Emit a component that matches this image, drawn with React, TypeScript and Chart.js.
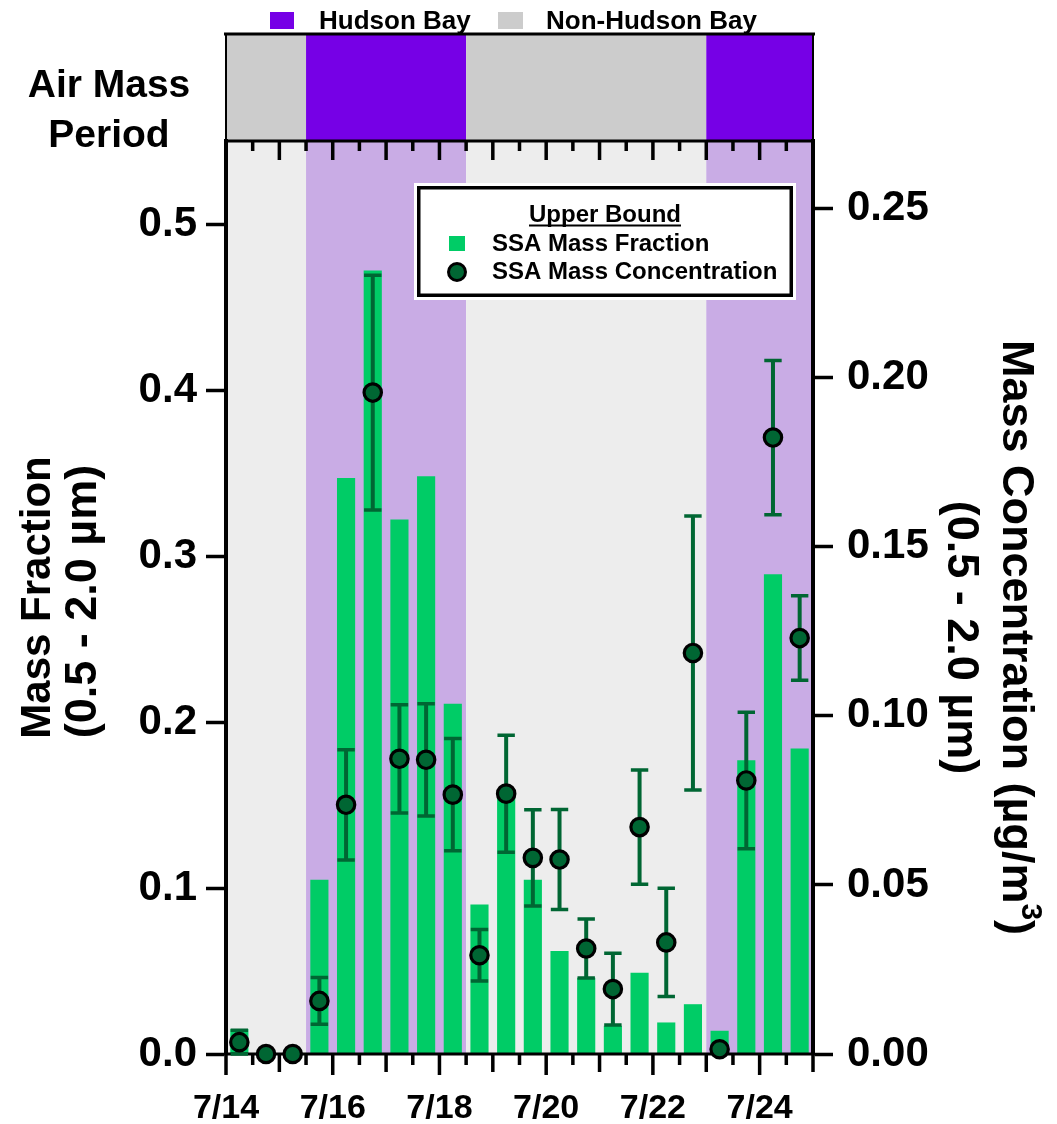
import React, { useEffect, useRef } from 'react';
import { Chart, registerables } from 'chart.js';

Chart.register(...registerables);

// ---------- data ----------
// sample positions: days after 7/14 00:00 (12-hour periods, centred)
const slotDays = [0.25, 0.75, 1.25, 1.75, 2.25, 2.75, 3.25, 3.75, 4.25, 4.75, 5.25, 5.75, 6.25, 6.75, 7.25, 7.75, 8.25, 8.75, 9.25, 9.75, 10.25, 10.75];
const massFraction = [0.015, 0, 0, 0.105, 0.347, 0.472, 0.322, 0.348, 0.211, 0.090, 0.157, 0.105, 0.062, 0.046, 0.017, 0.049, 0.019, 0.030, 0.014, 0.177, 0.289, 0.184];
const massConc = [0.0035, 0, 0, 0.0157, 0.0737, 0.1956, 0.0873, 0.087, 0.0767, 0.0292, 0.077, 0.058, 0.0575, 0.0312, 0.0192, 0.0671, 0.033, 0.1186, 0.0014, 0.0809, 0.1823, 0.123];
const concErr = [0.0035, 0, 0, 0.0069, 0.0163, 0.0347, 0.016, 0.0166, 0.0166, 0.0076, 0.0173, 0.0142, 0.0148, 0.0087, 0.0106, 0.0169, 0.016, 0.0405, 0, 0.0202, 0.0228, 0.0125];

const xTickDays = [0, 2, 4, 6, 8, 10];
const xTickLabels = ['7/14', '7/16', '7/18', '7/20', '7/22', '7/24'];

const periodStart = [0, 1.5, 4.5, 9];
const periodEnd = [1.5, 4.5, 9, 11];
const periodIsHudson = [false, true, false, true];
const periodLegend = ['Hudson Bay', 'Non-Hudson Bay'];

// ---------- styles ----------
const FONT = '"Liberation Sans", Arial, Helvetica, sans-serif';
const BAR = '#00CC66';
const PT = '#006633';
const HB = '#7600E6';
const NHB = '#CCCCCC';
const HB_LIGHT = '#C9ACE5';
const NHB_LIGHT = '#EDEDED';
const STRIP_TOP = 34;

const decor = {
  id: 'decor',
  beforeDraw(chart: any) {
    const { ctx, chartArea: ca, scales } = chart;
    const x = scales.x;
    ctx.save();
    for (let i = 0; i < periodStart.length; i++) {
      const x0 = x.getPixelForValue(periodStart[i]);
      const x1 = x.getPixelForValue(periodEnd[i]);
      ctx.fillStyle = periodIsHudson[i] ? HB_LIGHT : NHB_LIGHT;
      ctx.fillRect(x0, ca.top, x1 - x0, ca.bottom - ca.top);
      ctx.fillStyle = periodIsHudson[i] ? HB : NHB;
      ctx.fillRect(x0, STRIP_TOP, x1 - x0, ca.top - STRIP_TOP);
    }
    ctx.restore();
  },
  beforeDatasetDraw(chart: any, args: any) {
    if (args.index !== 1) return;
    const { ctx, chartArea: ca, scales } = chart;
    const x = scales.x;
    const y2 = scales.y2;
    ctx.save();
    // bottom axis line
    ctx.strokeStyle = '#000';
    ctx.lineWidth = 3;
    ctx.beginPath();
    ctx.moveTo(ca.left - 2, ca.bottom);
    ctx.lineTo(ca.right + 2, ca.bottom);
    ctx.stroke();
    // error bars
    ctx.strokeStyle = PT;
    for (let i = 0; i < slotDays.length; i++) {
      if (!(concErr[i] > 0)) continue;
      const px = x.getPixelForValue(slotDays[i]);
      const yt = y2.getPixelForValue(massConc[i] + concErr[i]);
      const yb = y2.getPixelForValue(Math.max(0, massConc[i] - concErr[i]));
      ctx.lineWidth = 4;
      ctx.beginPath();
      ctx.moveTo(px, yt);
      ctx.lineTo(px, yb);
      ctx.stroke();
      ctx.lineWidth = 3.5;
      ctx.beginPath();
      ctx.moveTo(px - 8.7, yt);
      ctx.lineTo(px + 8.7, yt);
      ctx.moveTo(px - 8.7, yb);
      ctx.lineTo(px + 8.7, yb);
      ctx.stroke();
    }
    ctx.restore();
  },
  afterDraw(chart: any) {
    const { ctx, chartArea: ca, scales } = chart;
    const x = scales.x;
    ctx.save();
    ctx.strokeStyle = '#000';
    ctx.lineCap = 'butt';
    // strip border
    ctx.lineWidth = 3;
    ctx.beginPath();
    ctx.moveTo(ca.left - 2, STRIP_TOP);
    ctx.lineTo(ca.right + 2, STRIP_TOP);
    ctx.stroke();
    ctx.lineWidth = 2;
    ctx.beginPath();
    ctx.moveTo(ca.left, STRIP_TOP);
    ctx.lineTo(ca.left, ca.top);
    ctx.moveTo(ca.right, STRIP_TOP);
    ctx.lineTo(ca.right, ca.top);
    ctx.stroke();
    // plot top line
    ctx.lineWidth = 3;
    ctx.beginPath();
    ctx.moveTo(ca.left - 2, ca.top);
    ctx.lineTo(ca.right + 2, ca.top);
    ctx.stroke();
    // x tick marks
    ctx.lineWidth = 3.5;
    const nT = Math.round((x.max - x.min) / 0.5);
    ctx.beginPath();
    for (let k = 0; k <= nT; k++) {
      const px = x.getPixelForValue(x.min + k * 0.5);
      const lenB = k % 4 === 0 ? 21 : k % 2 === 0 ? 18 : 11;
      ctx.moveTo(px, ca.bottom);
      ctx.lineTo(px, ca.bottom + lenB);
      if (k > 0 && k < nT) {
        const lenT = k % 2 === 0 ? 19 : 10;
        ctx.moveTo(px, ca.top);
        ctx.lineTo(px, ca.top + lenT);
      }
    }
    ctx.stroke();

    ctx.fillStyle = '#000';
    // Air Mass Period label
    ctx.font = `bold 39px ${FONT}`;
    ctx.textAlign = 'center';
    ctx.textBaseline = 'alphabetic';
    ctx.fillText('Air Mass', 109, 97);
    ctx.fillText('Period', 109, 147);

    // strip legend
    ctx.font = `bold 26px ${FONT}`;
    ctx.textAlign = 'left';
    ctx.fillStyle = HB;
    ctx.fillRect(270, 12, 24, 17);
    ctx.fillStyle = NHB;
    ctx.fillRect(498, 12, 25, 17);
    ctx.fillStyle = '#000';
    ctx.fillText(periodLegend[0], 319, 29);
    ctx.fillText(periodLegend[1], 546, 29);

    // axis titles
    const cy = (ca.top + ca.bottom) / 2;
    ctx.textAlign = 'center';
    ctx.font = `bold 42px ${FONT}`;
    ctx.save();
    ctx.translate(50, cy);
    ctx.rotate(-Math.PI / 2);
    ctx.fillText('Mass Fraction', 0, 0);
    ctx.restore();
    ctx.font = `bold 45px ${FONT}`;
    ctx.save();
    ctx.translate(96, cy + 4);
    ctx.rotate(-Math.PI / 2);
    ctx.fillText('(0.5 - 2.0 µm)', 0, 0);
    ctx.restore();

    // right title with superscript
    const main = 'Mass Concentration (µg/m';
    const big = `bold 45px ${FONT}`;
    const small = `bold 30px ${FONT}`;
    ctx.font = big;
    const wMain = ctx.measureText(main).width;
    const wClose = ctx.measureText(')').width;
    ctx.font = small;
    const wSup = ctx.measureText('3').width;
    const total = wMain + wSup + wClose;
    ctx.save();
    ctx.translate(1003, cy + 40);
    ctx.rotate(Math.PI / 2);
    ctx.textAlign = 'left';
    let lx = -total / 2;
    ctx.font = big;
    ctx.fillText(main, lx, 0);
    lx += wMain;
    ctx.font = small;
    ctx.fillText('3', lx, -19);
    lx += wSup;
    ctx.font = big;
    ctx.fillText(')', lx, 0);
    ctx.restore();
    ctx.save();
    ctx.translate(948, cy + 40);
    ctx.rotate(Math.PI / 2);
    ctx.textAlign = 'center';
    ctx.font = big;
    ctx.fillText('(0.5 - 2.0 µm)', 0, 0);
    ctx.restore();

    // in-plot legend
    ctx.fillStyle = '#FFFFFF';
    ctx.fillRect(414, 183, 382, 117);
    ctx.strokeStyle = '#000';
    ctx.lineWidth = 3.5;
    ctx.strokeRect(418.75, 187.75, 372.5, 107.5);
    ctx.fillStyle = '#000';
    ctx.font = `bold 24px ${FONT}`;
    ctx.textAlign = 'center';
    ctx.fillText('Upper Bound', 605, 222);
    const wu = ctx.measureText('Upper Bound').width;
    ctx.lineWidth = 2;
    ctx.beginPath();
    ctx.moveTo(605 - wu / 2, 225.5);
    ctx.lineTo(605 + wu / 2, 225.5);
    ctx.stroke();
    ctx.fillStyle = BAR;
    ctx.fillRect(449, 236, 16, 15);
    ctx.beginPath();
    ctx.arc(457, 272, 8.5, 0, Math.PI * 2);
    ctx.fillStyle = PT;
    ctx.fill();
    ctx.lineWidth = 3;
    ctx.strokeStyle = '#000';
    ctx.stroke();
    ctx.fillStyle = '#000';
    ctx.textAlign = 'left';
    ctx.fillText('SSA Mass Fraction', 492, 251);
    ctx.fillText('SSA Mass Concentration', 492, 279);
    ctx.restore();
  },
};

export default function App() {
  const ref = useRef<HTMLCanvasElement | null>(null);
  useEffect(() => {
    if (!ref.current) return;
    const chart = new Chart(ref.current, {
      type: 'bar',
      data: {
        datasets: [
          {
            type: 'bar',
            label: 'SSA Mass Fraction',
            data: slotDays.map((d, i) => ({ x: d, y: massFraction[i] })),
            backgroundColor: BAR,
            borderWidth: 0,
            yAxisID: 'y',
            xAxisID: 'x',
            barPercentage: 0.68,
            categoryPercentage: 1,
            order: 2,
          } as any,
          {
            type: 'line',
            label: 'SSA Mass Concentration',
            data: slotDays.map((d, i) => ({ x: d, y: massConc[i] })),
            yAxisID: 'y2',
            xAxisID: 'x',
            showLine: false,
            pointRadius: 8.7,
            pointHoverRadius: 8.7,
            pointBackgroundColor: PT,
            pointBorderColor: '#000',
            pointBorderWidth: 3.2,
            order: 1,
            clip: false,
          } as any,
        ],
      },
      options: {
        responsive: false,
        animation: false,
        devicePixelRatio: 1,
        layout: { padding: { top: 141, left: 0, right: 0, bottom: 0 } },
        plugins: { legend: { display: false }, tooltip: { enabled: false }, title: { display: false } },
        scales: {
          x: {
            type: 'linear',
            min: 0,
            max: 11,
            offset: false,
            position: 'bottom',
            grid: { display: false, drawTicks: false, offset: false },
            border: { display: false },
            ticks: {
              stepSize: 0.5,
              autoSkip: false,
              maxRotation: 0,
              minRotation: 0,
              includeBounds: false,
              padding: 34,
              color: '#000',
              font: { family: FONT, size: 34, weight: 'bold' },
              callback: (v: any) => {
                const idx = xTickDays.findIndex((d) => Math.abs(d - Number(v)) < 1e-6);
                return idx >= 0 ? xTickLabels[idx] : '';
              },
            },
            afterFit: (s: any) => {
              s.height = 70;
            },
          },
          y: {
            type: 'linear',
            position: 'left',
            min: 0,
            max: 0.55,
            grid: { display: true, drawOnChartArea: false, drawTicks: true, tickLength: 20, tickWidth: 3.5, tickColor: '#000' },
            border: { display: true, width: 4, color: '#000' },
            ticks: {
              stepSize: 0.1,
              includeBounds: false,
              padding: 9,
              color: '#000',
              font: { family: FONT, size: 42, weight: 'bold' },
              callback: (v: any) => Number(v).toFixed(1),
            },
            afterFit: (s: any) => {
              s.width = 226;
            },
          },
          y2: {
            type: 'linear',
            position: 'right',
            min: 0,
            max: 0.27,
            grid: { display: true, drawOnChartArea: false, drawTicks: true, tickLength: 20, tickWidth: 3.5, tickColor: '#000' },
            border: { display: true, width: 4, color: '#000' },
            ticks: {
              stepSize: 0.05,
              includeBounds: false,
              padding: 14,
              color: '#000',
              font: { family: FONT, size: 42, weight: 'bold' },
              callback: (v: any) => Number(v).toFixed(2),
            },
            afterFit: (s: any) => {
              s.width = 244;
            },
          },
        },
      } as any,
      plugins: [decor],
    });
    return () => chart.destroy();
  }, []);

  return (
    <div style={{ position: 'absolute', left: 0, top: 0, width: 1057, height: 1124, background: '#fff' }}>
      <canvas ref={ref} width={1057} height={1124} style={{ display: 'block', width: 1057, height: 1124 }} />
    </div>
  );
}
